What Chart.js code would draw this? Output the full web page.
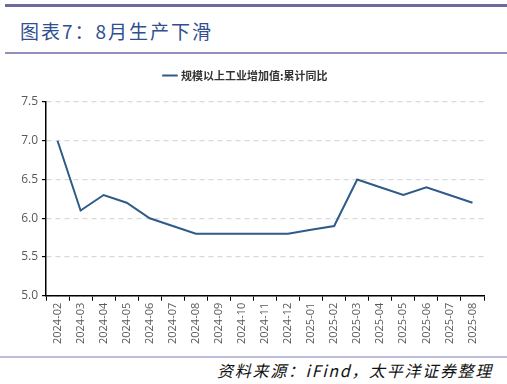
<!DOCTYPE html>
<html>
<head>
<meta charset="utf-8">
<script src="https://cdn.jsdelivr.net/npm/chart.js@4/dist/chart.umd.min.js"></script>
<style>
  html, body { margin: 0; padding: 0; background: #fff; }
  body { width: 507px; height: 384px; position: relative; overflow: hidden; }
  .rule-top { position: absolute; left: 5px; right: 0; top: 4px; height: 3px; background: #6b6b9b; }
  .title { position: absolute; left: 20px; top: 18px; font-family: "Noto Sans CJK SC", sans-serif;
           font-size: 19px; color: #2f4f8f; letter-spacing: 2px; line-height: 26px; }
  .rule-mid { position: absolute; left: 5px; right: 0; top: 52px; height: 2px; background: #9090c0; }
  .rule-bot { position: absolute; left: 0; right: 0; top: 356px; height: 2px; background: #bcbcdc; }
  .source { position: absolute; right: 14px; top: 359px; font-family: "Noto Sans CJK SC", sans-serif;
            font-size: 16px; font-style: italic; color: #111; letter-spacing: 1.7px; line-height: 22px; }
  .wrap { position: absolute; left: 0; top: 60px; width: 507px; height: 292px; }
  #chart { display: block; }
</style>
</head>
<body>
<div class="rule-top"></div>
<div class="title">图表7：8月生产下滑</div>
<div class="rule-mid"></div>
<div class="wrap"><canvas id="chart" width="507" height="292"></canvas></div>
<div class="rule-bot"></div>
<div class="source">资料来源：iFind，太平洋证券整理</div>
<script>
  'use strict';

  var months = ['2024-02', '2024-03', '2024-04', '2024-05', '2024-06', '2024-07', '2024-08',
      '2024-09', '2024-10', '2024-11', '2024-12', '2025-01', '2025-02', '2025-03', '2025-04',
      '2025-05', '2025-06', '2025-07', '2025-08'];
  var industryValue = [7.0, 6.1, 6.3, 6.2, 6.0, 5.9, 5.8, 5.8, 5.8, 5.8, 5.8, 5.85, 5.9,
      6.5, 6.4, 6.3, 6.4, 6.3, 6.2];
  var seriesName = '规模以上工业增加值:累计同比';

  // push the plot down a little below the legend
  var legendGap = {
      id: 'legendGap',
      beforeInit: function (chart) {
          var fit = chart.legend.fit;
          chart.legend.fit = function () {
              fit.bind(chart.legend)();
              this.height += 11;
          };
      }
  };

  var ctx = document.getElementById('chart').getContext('2d');
  window.myLine = new Chart(ctx, {
      type: 'line',
      plugins: [legendGap],
      data: {
          labels: months,
          datasets: [{
              label: seriesName,
              data: industryValue,
              borderColor: '#2e5b88',
              backgroundColor: '#2e5b88',
              borderWidth: 2,
              pointRadius: 0,
              tension: 0
          }]
      },
      options: {
          responsive: false,
          animation: false,
          layout: { padding: { left: 8, right: 23, top: 0, bottom: 6 } },
          plugins: {
              legend: {
                  labels: {
                      usePointStyle: true,
                      pointStyle: 'line',
                      boxWidth: 26,
                      color: '#333',
                      font: { family: 'Noto Sans CJK SC', size: 11, weight: 'bold' }
                  }
              },
              tooltip: { enabled: false }
          },
          scales: {
              x: {
                  offset: true,
                  grid: { offset: true, drawOnChartArea: false, drawTicks: true, tickLength: 5, tickColor: '#000' },
                  border: { color: '#000', width: 1.5 },
                  ticks: { color: '#595959', maxRotation: 90, minRotation: 90, autoSkip: false,
                           font: { family: 'Open Sans', size: 11 }, padding: 2 }
              },
              y: {
                  min: 5,
                  max: 7.5,
                  grid: { color: '#d9d9d9', lineWidth: 1.2, tickColor: '#000', tickLength: 4 },
                  border: { color: '#000', width: 1.5, dash: [5, 4] },
                  afterFit: function (scale) { scale.width = 38; },
                  ticks: { stepSize: 0.5, color: '#595959', padding: 4,
                           font: { family: 'Open Sans', size: 12 },
                           callback: function (v) { return v.toFixed(1); } }
              }
          }
      }
  });
</script>
</body>
</html>
